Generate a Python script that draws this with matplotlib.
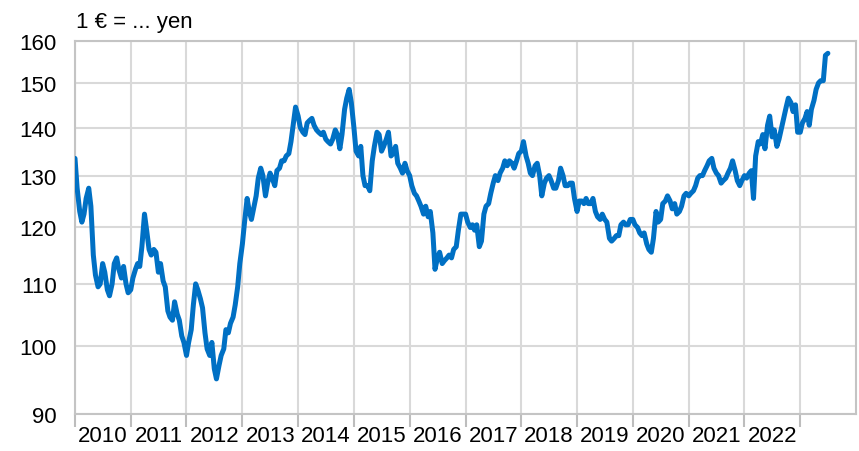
import matplotlib
matplotlib.use("Agg")
import matplotlib.pyplot as plt
import matplotlib.ticker as mticker
import pandas as pd

plt.rcParams['font.family'] = ['Liberation Sans', 'DejaVu Sans']

# EUR/JPY, read off the chart roughly twice a month
eurjpy_2010 = [133.5, 127.5, 123, 121, 122.5, 125.5, 127.5, 124, 115, 111.5, 109.5, 110,
               113.5, 112, 109, 108, 110, 113.5, 114.5, 112.5, 111, 113, 110, 108.5]
eurjpy_2011 = [109, 111, 112.5, 113.5, 113, 116.5, 122.5, 119.5, 116, 115, 116, 115.5,
               112, 113.5, 110.5, 109.5, 105.5, 104.5, 104, 107, 105, 104, 101.5, 100.5]
eurjpy_2012 = [98.5, 100.5, 102.5, 106.5, 110, 109, 107.5, 106, 102, 99.5, 98.5, 100.5,
               96.5, 95, 97, 98.5, 99.5, 102.5, 102, 103.5, 104.5, 106.5, 109.5, 113.5]
eurjpy_2013 = [117, 121, 125.5, 123, 121.5, 123.5, 126, 129.5, 131.5, 130, 126, 128.5,
               130.5, 129.5, 128, 131, 131.5, 133, 133, 134, 134.5, 137, 141, 144.5]
eurjpy_2014 = [142.5, 140, 139, 138.5, 141, 141.5, 142, 140.5, 139.5, 139, 138.5, 139,
               137.5, 137, 136.5, 137.5, 139.5, 138.5, 135.5, 138.5, 144, 146.5, 148.5, 145.5]
eurjpy_2015 = [140, 135, 134, 136, 130, 128, 128, 127, 133, 136, 139, 138.5,
               135, 136, 137.5, 139, 134, 134.5, 136, 132.5, 131.5, 130.5, 132.5, 131]
eurjpy_2016 = [130, 128, 126.5, 126, 125, 124, 122.5, 124, 122, 123, 119, 112.5,
               114.5, 115.5, 113.5, 114, 114.5, 115, 114.5, 116, 116.5, 119.5, 122.5, 122.5]
eurjpy_2017 = [122.5, 121, 120, 120.5, 119.5, 120.5, 116.5, 117.5, 122.5, 124, 124.5, 126.5,
               128.5, 130, 129, 130.5, 131.5, 133, 132, 133, 132.5, 131.5, 133, 134.5]
eurjpy_2018 = [135, 137, 134, 132.5, 130.5, 130, 132, 132.5, 130, 126, 128.5, 129.5,
               130, 129, 127.5, 127.5, 129, 131.5, 130, 128, 128, 128.5, 128.5, 125.5]
eurjpy_2019 = [123, 125, 125, 124.5, 125.5, 124.5, 124.5, 125.5, 123, 122, 121.5, 122.5,
               121.5, 121, 118, 117.5, 118, 118.5, 118.5, 120.5, 121, 120.5, 120.5, 121.5]
eurjpy_2020 = [121.5, 120.5, 120, 119, 118.5, 119, 117, 116, 115.5, 118, 123, 121,
               121.5, 124.5, 125, 126, 125, 123.5, 124.5, 122.5, 123, 124, 126, 126.5]
eurjpy_2021 = [126, 126.5, 127, 128, 129.5, 130, 130, 131, 132, 133, 133.5, 131.5,
               130.5, 130, 128.5, 129, 129.5, 130.5, 131.5, 133, 131, 129, 128, 129]
eurjpy_2022 = [130, 129.5, 130.5, 131, 125.5, 134, 137, 136.5, 138.5, 135.5, 140.5, 142.5,
               138, 139.5, 136, 137.5, 140, 142, 144.5, 146.5, 145.5, 143.5, 145, 139]
eurjpy_2023 = [139, 141, 142, 143.5, 140.5, 144, 146, 148.5, 150, 150.5, 150.5, 156.5, 157]

values = (eurjpy_2010 + eurjpy_2011 + eurjpy_2012 + eurjpy_2013 + eurjpy_2014
          + eurjpy_2015 + eurjpy_2016 + eurjpy_2017 + eurjpy_2018 + eurjpy_2019
          + eurjpy_2020 + eurjpy_2021 + eurjpy_2022 + eurjpy_2023)
dates = pd.date_range("2010-01-01", periods=len(values), freq="SMS")

y_ticks = [90, 100, 110, 120, 130, 140, 150, 160]
year_labels = [str(y) for y in range(2010, 2023)]

fig = plt.figure(figsize=(8.59, 4.52), dpi=100)
ax = fig.add_axes([0.0873, 0.082, 0.9092, 0.825])

ax.plot(dates, values, color="#0070c4", lw=3.6, solid_joinstyle="round",
        solid_capstyle="round", zorder=3)

ax.set_yscale("log")
ax.set_ylim(90, 160)
ax.yaxis.set_major_locator(mticker.FixedLocator(y_ticks))
ax.yaxis.set_major_formatter(mticker.FixedFormatter([str(v) for v in y_ticks]))
ax.yaxis.set_minor_locator(mticker.NullLocator())
ax.tick_params(axis="y", length=0, pad=13, labelsize=16)

ax.set_xlim(pd.Timestamp("2010-01-01"), pd.Timestamp("2024-01-01"))
year_starts = pd.date_range("2010-01-01", "2023-01-01", freq="YS")
mid_years = [pd.Timestamp(f"{y}-07-02") for y in year_labels]
ax.set_xticks(year_starts)
ax.set_xticklabels([])
ax.set_xticks(mid_years, minor=True)
ax.set_xticklabels(year_labels, minor=True)
ax.tick_params(axis="x", which="major", direction="out", length=9, width=1.5,
               color="#bdbdbd")
ax.tick_params(axis="x", which="minor", length=0, pad=8, labelsize=16)

ax.grid(True, which="major", color="#d9d9d9", lw=1.5, zorder=0)
for s in ax.spines.values():
    s.set_color("#c4c4c4")
    s.set_linewidth(1.5)

fig.text(0.0885, 0.95, "1 \u20ac = ... yen", fontsize=16, ha="left", va="center")

fig.savefig("out.png", dpi=100)
